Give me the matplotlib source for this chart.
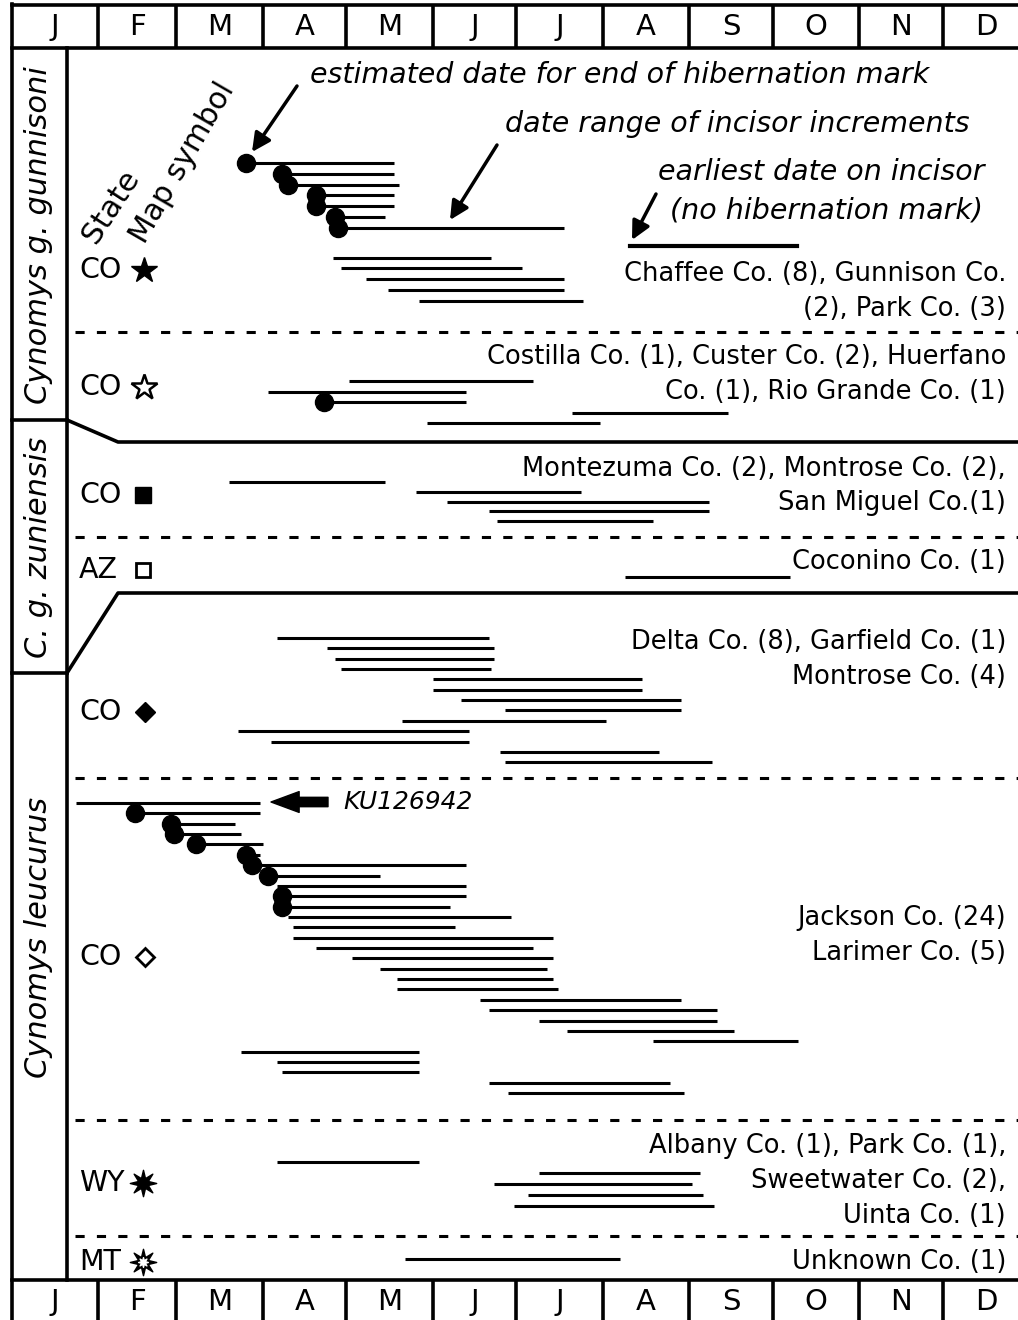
import numpy as np
import matplotlib.pyplot as plt
from matplotlib.path import Path

plt.rcParams['font.family'] = ['DejaVu Sans']

# Meses del año (eje superior e inferior)
meses = ['J', 'F', 'M', 'A', 'M', 'J', 'J', 'A', 'S', 'O', 'N', 'D']
dias_mes = [31, 28, 31, 30, 31, 30, 31, 31, 30, 31, 30, 31]

# Cada linea: (dia inicio, dia fin, 1 si tiene marca de hibernacion)
gunn_co_estrella = [(84, 137, 1), (97, 137, 1), (99, 139, 1), (109, 137, 1), (109, 137, 1),
                    (116, 134, 1), (117, 198, 1),
                    (115, 172, 0), (118, 183, 0), (127, 198, 0), (135, 198, 0), (146, 205, 0)]
gunn_co_vacia = [(121, 187, 0), (92, 163, 0), (112, 163, 1), (201, 257, 0), (149, 211, 0)]
zuni_co = [(78, 134, 0), (145, 204, 0), (156, 250, 0), (171, 250, 0), (174, 230, 0)]
zuni_az = [(220, 279, 0)]
leuc_co_rombo = [(95, 171, 0), (113, 173, 0), (116, 173, 0), (118, 172, 0), (151, 226, 0),
                 (151, 226, 0), (161, 240, 0), (177, 240, 0), (140, 213, 0), (81, 164, 0),
                 (93, 164, 0), (175, 232, 0), (177, 251, 0)]
leuc_co_vacio = [(23, 89, 0), (44, 89, 1), (57, 80, 1), (58, 82, 1), (66, 90, 1), (84, 89, 1),
                 (86, 163, 1), (92, 132, 1), (95, 163, 0), (97, 163, 1), (97, 157, 1),
                 (99, 179, 0), (101, 159, 0), (101, 194, 0), (109, 187, 0), (122, 194, 0),
                 (132, 192, 0), (138, 194, 0), (138, 196, 0), (168, 240, 0), (171, 253, 0),
                 (189, 253, 0), (199, 259, 0), (230, 282, 0), (82, 146, 0), (95, 146, 0),
                 (97, 146, 0), (171, 236, 0), (178, 241, 0)]
leuc_wy = [(95, 146, 0), (189, 247, 0), (173, 244, 0), (185, 248, 0), (180, 252, 0)]
leuc_mt = [(141, 218, 0)]

estados = ['CO', 'CO', 'CO', 'AZ', 'CO', 'CO', 'WY', 'MT']
condados = [['Chaffee Co. (8), Gunnison Co.', '(2), Park Co. (3)'],
            ['Costilla Co. (1), Custer Co. (2), Huerfano', 'Co. (1), Rio Grande Co. (1)'],
            ['Montezuma Co. (2), Montrose Co. (2),', 'San Miguel Co.(1)'],
            ['Coconino Co. (1)'],
            ['Delta Co. (8), Garfield Co. (1)', 'Montrose Co. (4)'],
            ['Jackson Co. (24)', 'Larimer Co. (5)'],
            ['Albany Co. (1), Park Co. (1),', 'Sweetwater Co. (2),', 'Uinta Co. (1)'],
            ['Unknown Co. (1)']]
especies = ['Cynomys g. gunnisoni', 'C. g. zuniensis', 'Cynomys leucurus']

# Acomodo de cada grupo: y de la primera linea, separacion, (fila del hueco, tamaño)
grupos = [(gunn_co_estrella, 163, 10.8, (7, 19)),
          (gunn_co_vacia, 381, 10.5, None),
          (zuni_co, 482, 9.8, None),
          (zuni_az, 577, 10, None),
          (leuc_co_rombo, 638, 10.35, None),
          (leuc_co_vacio, 803, 10.36, None),
          (leuc_wy, 1162, 11, None),
          (leuc_mt, 1259, 10, None)]

W, H = 1018, 1320
X0, PXD = 12, 2.787   # pixel del 1 de enero y pixeles por dia

fig = plt.figure(figsize=(W / 100, H / 100), dpi=100)
# marco en pixeles
fr = fig.add_axes([0, 0, 1, 1])
fr.set_xlim(0, W)
fr.set_ylim(H, 0)
fr.axis('off')
# datos en dias del año
ax = fig.add_axes([0, 0, 1, 1])
ax.set_xlim(-X0 / PXD, (W - X0) / PXD)
ax.set_ylim(H, 0)
ax.axis('off')
ax.patch.set_alpha(0)

k = 'black'
lw_marco = 2.6

# Cajas de meses arriba y abajo
inicio = np.concatenate([[0], np.cumsum(dias_mes)])
mitad = (inicio[:-1] + inicio[1:]) / 2
for y_a, y_b, y_t in [(5, 48, 27), (1280, 1325, 1302)]:
    ax.vlines(inicio[1:-1], y_a, y_b, color=k, lw=lw_marco)
    for m, xm in zip(meses, mitad):
        ax.text(xm, y_t, m, ha='center', va='center', fontsize=21)
fr.plot([12, W], [5, 5], color=k, lw=lw_marco)
fr.plot([12, W], [48, 48], color=k, lw=lw_marco)
fr.plot([12, W], [1280, 1280], color=k, lw=lw_marco)
fr.plot([12, 12], [4, H], color=k, lw=lw_marco)
fr.plot([67, 67], [48, 1280], color=k, lw=lw_marco)

# separaciones entre especies
fr.plot([12, 67], [420, 420], color=k, lw=lw_marco)
fr.plot([67, 118, W], [420, 442, 442], color=k, lw=lw_marco)
fr.plot([W, 118, 67], [593, 593, 673], color=k, lw=lw_marco)
fr.plot([12, 67], [673, 673], color=k, lw=lw_marco)

# lineas punteadas entre estados
for yd in [332, 537, 778, 1120, 1236]:
    fr.plot([75, W], [yd, yd], color=k, lw=2.2, ls=(0, (3, 4)), solid_capstyle='butt')

# nombres de especies
for sp, yc in zip(especies, [235, 547, 937]):
    fr.text(39, yc, sp, rotation=90, style='italic', ha='center', va='center', fontsize=22)

# lineas de incisivos
for datos, y0, paso, hueco in grupos:
    ini = np.array([d[0] for d in datos], dtype=float)
    fin = np.array([d[1] for d in datos], dtype=float)
    hib = np.array([d[2] for d in datos], dtype=bool)
    ys = y0 + paso * np.arange(len(datos))
    if hueco is not None:
        ys[hueco[0]:] += hueco[1]
    ax.hlines(ys, ini, fin, color=k, lw=2.2)
    ax.plot(ini[hib], ys[hib], 'o', color=k, ms=13)

# Estado y simbolo del mapa
y_est = [270, 387, 495, 570, 712, 957, 1183, 1262]
for est, ye in zip(estados, y_est):
    fr.text(79, ye, est, ha='left', va='center', fontsize=20.5)
estrella8 = Path.unit_regular_star(8, 0.4)
fr.plot(144, 270, marker='*', ms=19, color=k)
fr.plot(144, 387, marker='*', ms=19, mfc='white', mec=k, mew=1.8)
fr.plot(143, 495, marker='s', ms=11, color=k)
fr.plot(143, 570, marker='s', ms=10, mfc='white', mec=k, mew=2)
fr.plot(145, 712, marker='D', ms=10, color=k)
fr.plot(145, 957, marker='D', ms=9.5, mfc='white', mec=k, mew=2)
fr.plot(143, 1183, marker=estrella8, ms=19, color=k)
fr.plot(143, 1262, marker=estrella8, ms=19, color=k)
fr.plot(143, 1262, marker=estrella8, ms=7, color='white')

# condados (alineados a la derecha)
y_cond = [[274, 309], [357, 392], [469, 503], [562], [642, 677], [918, 953],
          [1146, 1181, 1216], [1262]]
for lineas, yl in zip(condados, y_cond):
    for t, yy in zip(lineas, yl):
        fr.text(1006, yy, t, ha='right', va='center', fontsize=18.5)

# encabezados girados
fr.text(111, 206, 'State', rotation=57, ha='center', va='center', fontsize=22)
fr.text(182, 163, 'Map symbol', rotation=60, ha='center', va='center', fontsize=21.5)

# notas explicativas
fr.text(310, 75, 'estimated date for end of hibernation mark', style='italic',
        ha='left', va='center', fontsize=20.5)
fr.text(505, 124, 'date range of incisor increments', style='italic',
        ha='left', va='center', fontsize=20.5)
fr.text(985, 172, 'earliest date on incisor', style='italic', ha='right', va='center',
        fontsize=20.5)
fr.text(983, 210, '(no hibernation mark)', style='italic', ha='right', va='center',
        fontsize=20.5)
fr.plot([630, 797], [246, 246], color=k, lw=3)
flecha = dict(arrowstyle='-|>', color=k, lw=2.5, mutation_scale=28, shrinkA=0, shrinkB=0)
fr.annotate('', xy=(252, 152), xytext=(297, 86), arrowprops=flecha)
fr.annotate('', xy=(450, 220), xytext=(497, 145), arrowprops=flecha)
fr.annotate('', xy=(632, 240), xytext=(656, 194), arrowprops=flecha)

# ejemplar KU126942
fr.annotate('', xy=(271, 802), xytext=(328, 802),
            arrowprops=dict(arrowstyle='simple,head_length=1.35,head_width=1.0,tail_width=0.45',
                            color=k, mutation_scale=15, shrinkA=0, shrinkB=0))
fr.text(343, 802, 'KU126942', style='italic', ha='left', va='center', fontsize=18)

fig.savefig('out.png', dpi=100)
